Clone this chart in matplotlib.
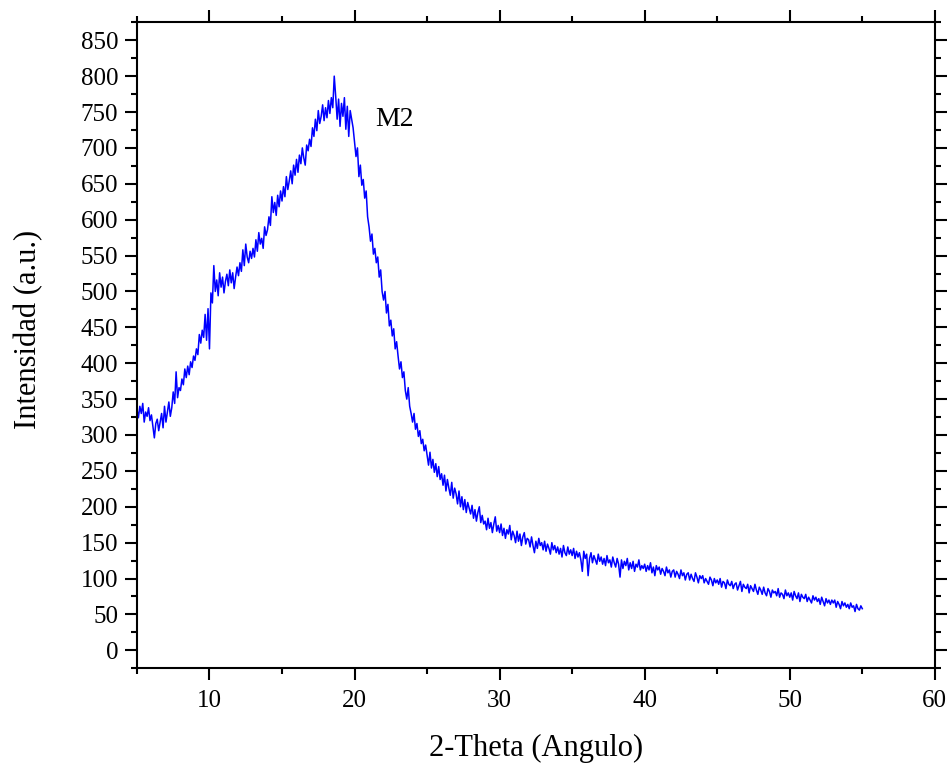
import numpy as np
import matplotlib
matplotlib.use('Agg')
import matplotlib.pyplot as plt
from matplotlib.ticker import MultipleLocator

# 2-theta from 5 to 55 in steps of 0.1 (one row = 1 degree)
two_theta = np.round(np.arange(5.0, 55.01, 0.1), 1)

intensity = [
    336, 324, 340, 330, 344, 318, 332, 326, 338, 320,
    328, 312, 296, 316, 322, 306, 318, 330, 310, 340,
    318, 332, 346, 326, 338, 360, 344, 388, 352, 366,
    362, 378, 370, 392, 380, 396, 384, 402, 394, 410,
    404, 420, 412, 440, 428, 446, 436, 468, 432, 476,
    420, 498, 484, 536, 500, 516, 494, 526, 506, 520,
    498, 514, 524, 508, 530, 512, 526, 504, 520, 534,
    522, 540, 528, 558, 536, 566, 548, 540, 556, 546,
    560, 548, 572, 556, 582, 566, 574, 560, 590, 578,
    586, 604, 592, 632, 610, 624, 606, 634, 618, 640,
    626, 646, 632, 660, 642, 654, 668, 650, 676, 662,
    684, 666, 690, 678, 700, 686, 676, 704, 696, 712,
    702, 728, 716, 740, 724, 752, 734, 744, 760, 738,
    756, 742, 766, 748, 770, 756, 800, 772, 740, 768,
    730, 762, 744, 770, 726, 758, 716, 752, 740, 728,
    708, 688, 700, 660, 676, 648, 656, 630, 640, 604,
    590, 570, 580, 552, 560, 540, 548, 520, 530, 500,
    488, 500, 470, 482, 452, 460, 438, 448, 420, 430,
    410, 392, 402, 380, 388, 362, 350, 366, 340, 330,
    318, 330, 308, 316, 298, 306, 288, 294, 278, 286,
    272, 258, 276, 254, 266, 248, 260, 242, 256, 238,
    246, 230, 244, 222, 238, 226, 216, 234, 212, 226,
    218, 204, 222, 200, 214, 196, 210, 192, 206, 198,
    190, 202, 184, 196, 180, 192, 200, 178, 188, 176,
    180, 168, 184, 170, 178, 164, 176, 186, 166, 174,
    164, 176, 160, 170, 156, 168, 162, 174, 154, 166,
    160, 150, 166, 152, 162, 146, 158, 164, 148, 156,
    154, 144, 158, 146, 136, 152, 142, 156, 146, 150,
    140, 152, 138, 148, 142, 134, 150, 140, 146, 136,
    144, 134, 142, 130, 146, 136, 132, 144, 134, 140,
    132, 142, 128, 138, 130, 136, 126, 110, 138, 128,
    134, 104, 128, 136, 122, 132, 126, 120, 134, 124,
    130, 120, 128, 118, 132, 122, 126, 116, 130, 122,
    116, 128, 120, 102, 126, 114, 124, 118, 128, 112,
    122, 114, 124, 110, 120, 116, 126, 112, 118, 114,
    120, 110, 118, 112, 122, 108, 116, 104, 118, 112,
    116, 106, 114, 110, 104, 116, 108, 112, 102, 110,
    112, 102, 110, 106, 100, 112, 104, 108, 98, 106,
    108, 98, 106, 100, 96, 108, 102, 94, 104, 100,
    104, 94, 100, 96, 92, 102, 98, 90, 100, 94,
    98, 92, 100, 88, 96, 94, 86, 98, 92, 90,
    96, 86, 92, 94, 84, 90, 96, 82, 92, 88,
    86, 92, 80, 90, 86, 82, 92, 84, 78, 88,
    84, 78, 88, 80, 76, 86, 82, 74, 84, 80,
    82, 76, 86, 74, 80, 78, 72, 84, 76, 80,
    74, 80, 70, 82, 76, 72, 80, 68, 78, 74,
    72, 78, 68, 74, 70, 66, 76, 70, 74, 68,
    72, 64, 74, 68, 62, 72, 66, 70, 64, 70,
    66, 70, 60, 68, 64, 58, 68, 62, 66, 60,
    64, 58, 66, 60, 62, 54, 64, 58, 56, 62,
    58,
]

sample_label = "M2"


def plot_xrd(x, y):
    plt.rcParams['font.family'] = ['Liberation Serif', 'DejaVu Serif']
    fig, ax = plt.subplots(1, 1, figsize=(9.51, 7.69), dpi=100)
    fig.subplots_adjust(left=0.144, right=0.983, top=0.971, bottom=0.131)
    ax.plot(x, y, color='#0000ff', lw=1.1)
    ax.text(21.4, 740, sample_label, fontsize=20, va='center', ha='left')
    ax.set_xlim(5, 60)
    ax.set_ylim(-25, 875)
    ax.xaxis.set_major_locator(MultipleLocator(10))
    ax.xaxis.set_minor_locator(MultipleLocator(5))
    ax.yaxis.set_major_locator(MultipleLocator(50))
    ax.yaxis.set_minor_locator(MultipleLocator(25))
    ax.tick_params(which='both', direction='out', top=True, right=True,
                   labeltop=False, labelright=False, width=1.5,
                   labelsize=18)
    ax.tick_params(which='major', length=8.5)
    ax.tick_params(which='minor', length=4.5)
    ax.tick_params(axis='x', which='major', pad=7)
    ax.tick_params(axis='y', which='major', pad=5)
    for s in ax.spines.values():
        s.set_linewidth(1.5)
    ax.set_xlabel("2-Theta (Angulo)", fontsize=22, labelpad=16)
    ax.set_ylabel("Intensidad (a.u.)", fontsize=22)
    ax.yaxis.set_label_coords(-0.118, 0.525)
    fig.savefig('out.png')
    return None


def main():
    plot_xrd(two_theta, intensity)
    return None


if __name__ == '__main__':
    main()
